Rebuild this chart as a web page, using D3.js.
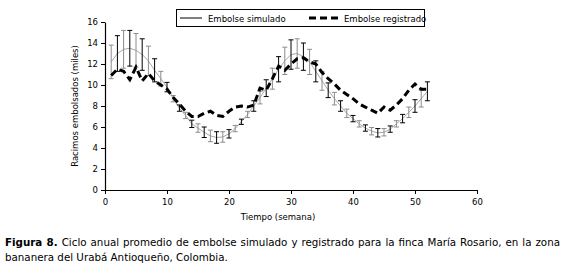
<!DOCTYPE html>
<html>
<head>
<meta charset="utf-8">
<script src="https://cdn.jsdelivr.net/npm/d3@7"></script>
<style>
    body { margin: 0; background: #fff; }
    #chart { position: relative; width: 564px; height: 265px; font-family: Verdana, "DejaVu Sans", sans-serif; }
    #caption { position: absolute; left: 5px; top: 235px; width: 555px; font-size: 10.3px; line-height: 15px; text-align: justify; text-align-last: left; color: #000; }
</style>
</head>
<body>
<div id="chart"></div>
<script>
// Semanas del año
const weeks = d3.range(1, 53);

// Embolse simulado (miles de racimos) y su desviación
const simulated = [12.2, 13.0, 13.4, 13.5, 13.3, 12.9, 12.3, 11.4, 10.6, 9.8, 8.7, 7.8, 7.1, 6.3, 5.9, 5.5, 5.15, 5.0, 5.05, 5.35,
    5.85, 6.5, 7.2, 8.0, 8.8, 9.7, 10.6, 11.5, 12.3, 12.9, 13.0, 12.7, 12.2, 11.3, 10.4, 9.5, 8.7, 8.0, 7.3, 6.8,
    6.3, 5.9, 5.6, 5.45, 5.5, 5.8, 6.3, 6.8, 7.4, 8.0, 8.7, 9.4];
const simError = [1.6, 1.7, 1.8, 1.7, 1.6, 1.5, 1.4, 1.1, 0.7, 0.45, 0.3, 0.3, 0.3, 0.35, 0.4, 0.5, 0.55, 0.55, 0.5, 0.4,
    0.3, 0.25, 0.3, 0.5, 0.6, 0.8, 1.0, 1.2, 1.3, 1.4, 1.4, 1.3, 1.2, 1.0, 0.9, 0.7, 0.6, 0.5, 0.4, 0.3,
    0.3, 0.3, 0.35, 0.4, 0.35, 0.3, 0.3, 0.4, 0.5, 0.6, 0.8, 0.9];

// Embolse registrado
const registered = [10.9, 11.5, 11.3, 10.5, 11.7, 10.4, 11.1, 10.4, 10.0, 9.6, 8.8, 8.2, 7.5, 7.0, 7.0, 7.3, 7.5, 7.1, 7.0, 7.5,
    7.9, 8.0, 7.9, 8.1, 9.7, 9.5, 10.6, 11.8, 11.4, 12.0, 12.5, 12.6, 12.2, 12.0, 11.2, 10.6, 10.1, 9.5, 9.1, 8.7,
    8.2, 7.9, 7.6, 7.3, 7.9, 7.6, 8.1, 8.7, 9.5, 10.1, 9.6, 9.6];

const xTicks = [0, 10, 20, 30, 40, 50, 60];
const yTicks = [0, 2, 4, 6, 8, 10, 12, 14, 16];

const width = 564, height = 265;
const margin = { left: 105, right: 87, top: 22, bottom: 75 };

const svg = d3.select('#chart').append('svg')
    .attr('width', width)
    .attr('height', height)
    .style('position', 'absolute')
    .style('left', 0).style('top', 0);

const x = d3.scaleLinear().domain([0, 60]).range([margin.left, width - margin.right]);
const y = d3.scaleLinear().domain([0, 16]).range([height - margin.bottom, margin.top]);

// Axes
const xAxis = svg.append('g')
    .attr('transform', `translate(0,${y(0)})`)
    .call(d3.axisBottom(x).tickValues(xTicks).tickSize(4).tickSizeOuter(0));
const yAxis = svg.append('g')
    .attr('transform', `translate(${x(0)},0)`)
    .call(d3.axisLeft(y).tickValues(yTicks).tickSize(4).tickSizeOuter(0));

[xAxis, yAxis].forEach(a => {
    a.select('.domain').attr('stroke', '#000').attr('stroke-width', 1.2);
    a.selectAll('.tick line').attr('stroke', '#000');
    a.selectAll('.tick text').attr('fill', '#000')
        .style('font-family', 'Verdana, "DejaVu Sans", sans-serif')
        .style('font-size', '8.5px');
});
xAxis.selectAll('.tick text').attr('dy', '0.9em');

// Axis titles
svg.append('text')
    .attr('x', 278).attr('y', 220)
    .attr('text-anchor', 'middle')
    .style('font-size', '8.5px')
    .text('Tiempo (semana)');

svg.append('text')
    .attr('transform', `translate(78,${(y(0) + y(16)) / 2}) rotate(-90)`)
    .attr('text-anchor', 'middle')
    .style('font-size', '8.5px')
    .text('Racimos embolsados (miles)');

// Simulated line
const simLine = d3.line().x((d, i) => x(weeks[i])).y(d => y(d));
svg.append('path')
    .datum(simulated)
    .attr('fill', 'none')
    .attr('stroke', '#a8a8a8')
    .attr('stroke-width', 1)
    .attr('d', simLine);

// Error bars, alternating gray / black
const bars = svg.append('g')
    .selectAll('g')
    .data(weeks)
    .join('g')
    .attr('stroke', (d, i) => i % 2 === 0 ? '#8c8c8c' : '#000')
    .attr('stroke-width', 1);

bars.append('line')
    .attr('x1', d => x(d)).attr('x2', d => x(d))
    .attr('y1', (d, i) => y(simulated[i] + simError[i]))
    .attr('y2', (d, i) => y(simulated[i] - simError[i]));
bars.append('line')
    .attr('x1', d => x(d) - 2.5).attr('x2', d => x(d) + 2.5)
    .attr('y1', (d, i) => y(simulated[i] + simError[i]))
    .attr('y2', (d, i) => y(simulated[i] + simError[i]));
bars.append('line')
    .attr('x1', d => x(d) - 2.5).attr('x2', d => x(d) + 2.5)
    .attr('y1', (d, i) => y(simulated[i] - simError[i]))
    .attr('y2', (d, i) => y(simulated[i] - simError[i]));

// Registered line (dashed)
svg.append('path')
    .datum(registered)
    .attr('fill', 'none')
    .attr('stroke', '#000')
    .attr('stroke-width', 3)
    .attr('stroke-dasharray', '7,4')
    .attr('d', simLine);

// Legend
const legend = svg.append('g');
legend.append('rect')
    .attr('x', 176.5).attr('y', 9.5)
    .attr('width', 248).attr('height', 17)
    .attr('fill', '#fff')
    .attr('stroke', '#000');
legend.append('line')
    .attr('x1', 180).attr('x2', 202).attr('y1', 18).attr('y2', 18)
    .attr('stroke', '#000');
legend.append('text')
    .attr('x', 208).attr('y', 21.5)
    .style('font-size', '8.5px')
    .text('Embolse simulado');
legend.append('line')
    .attr('x1', 309).attr('x2', 338).attr('y1', 18).attr('y2', 18)
    .attr('stroke', '#000').attr('stroke-width', 3)
    .attr('stroke-dasharray', '7,4');
legend.append('text')
    .attr('x', 344).attr('y', 21.5)
    .style('font-size', '8.5px')
    .text('Embolse registrado');

// Caption
d3.select('#chart').append('div')
    .attr('id', 'caption')
    .html('<b>Figura 8.</b> Ciclo anual promedio de embolse simulado y registrado para la finca María Rosario, en la zona bananera del Urabá Antioqueño, Colombia.');
</script>
</body>
</html>
